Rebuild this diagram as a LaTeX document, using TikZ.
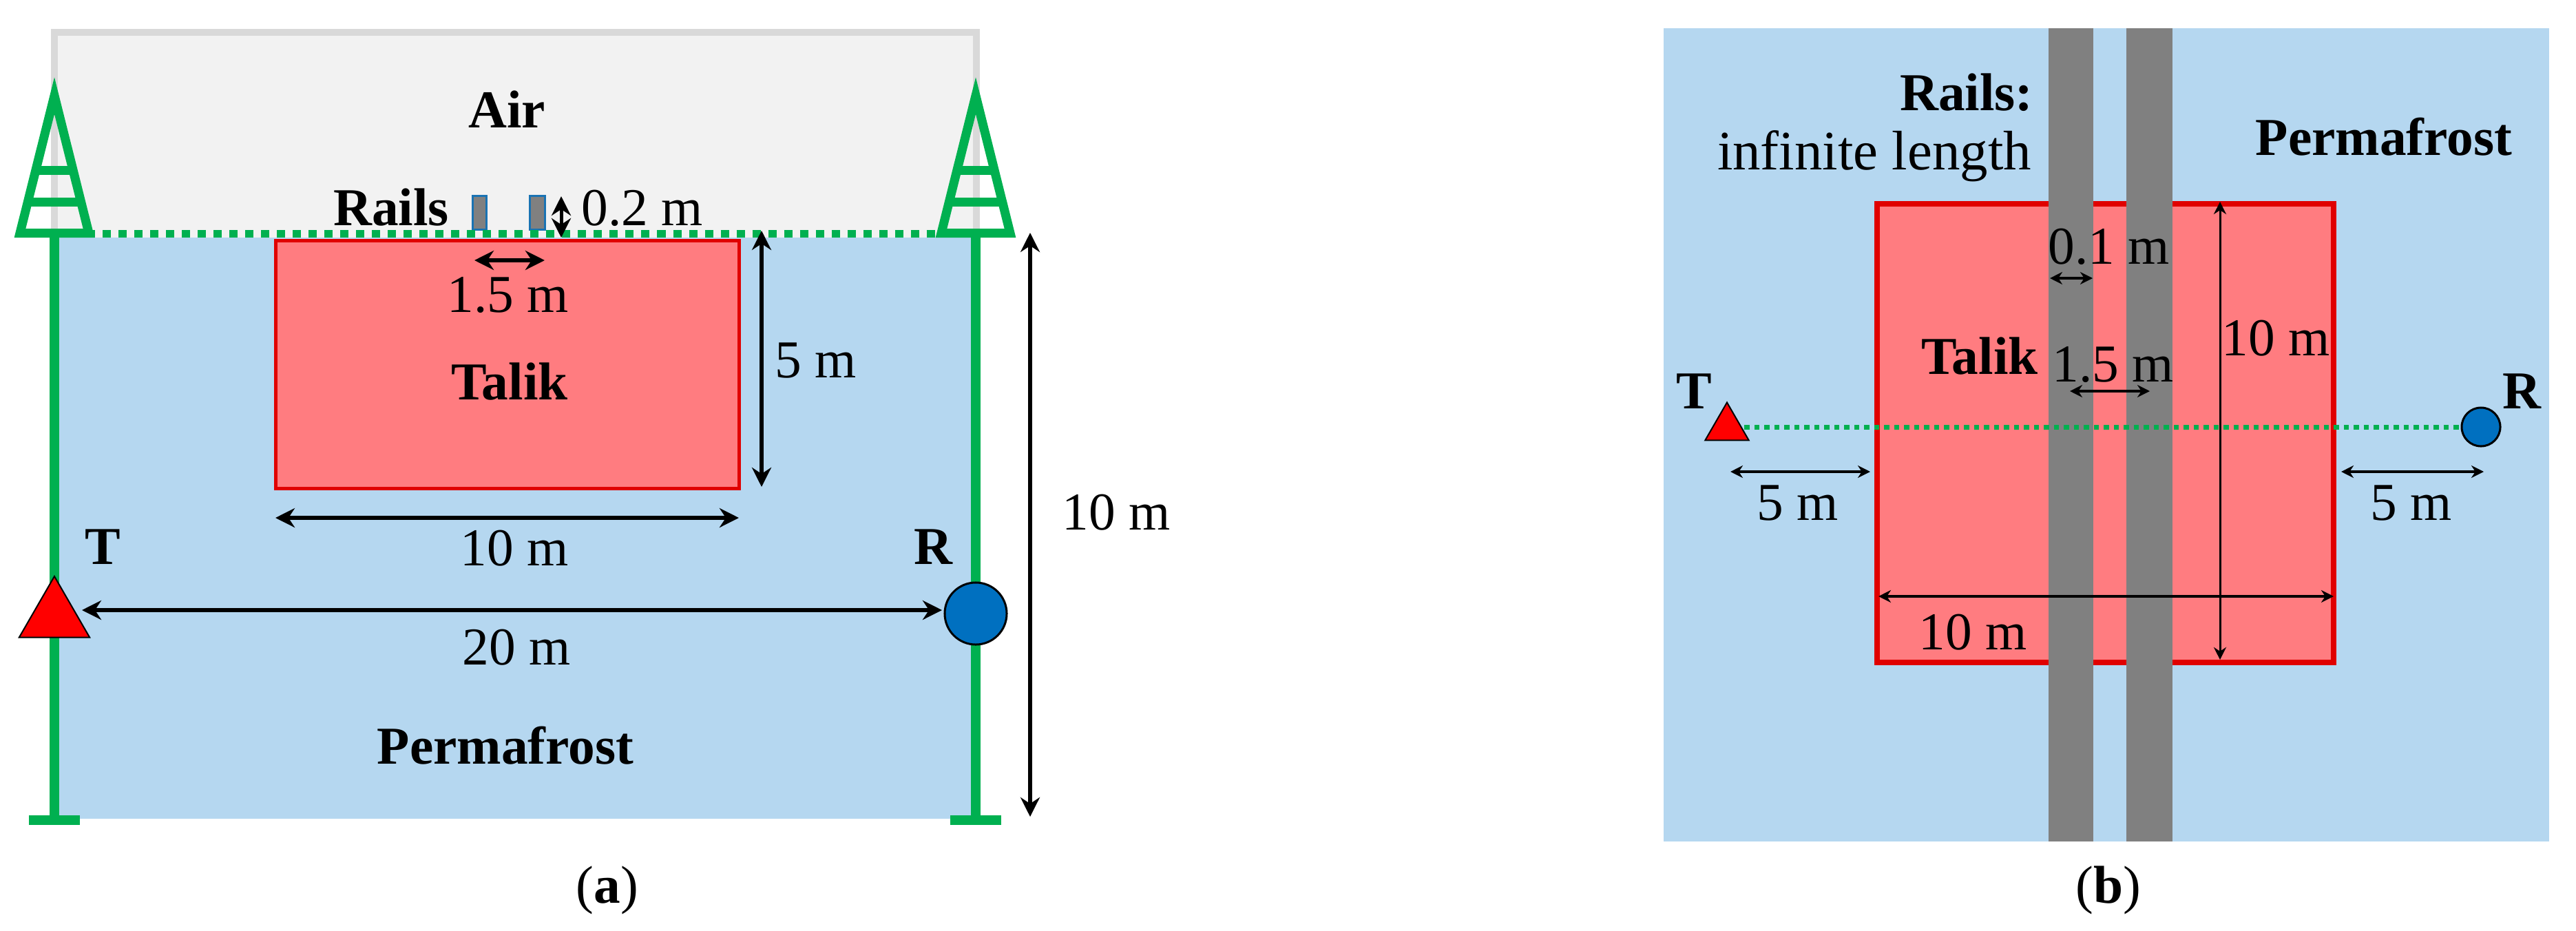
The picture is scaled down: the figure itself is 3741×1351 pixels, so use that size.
\documentclass[tikz,border=0pt]{standalone}
\usepackage{fontspec}
\setmainfont{Liberation Serif}
\usepackage{tikz}
\usetikzlibrary{arrows,arrows.meta}
\usetikzlibrary{calc}
\usetikzlibrary{shapes.geometric}
\definecolor{permafrost}{RGB}{181, 215, 240}
\definecolor{talik}{RGB}{255, 124, 128}
\definecolor{talikrand}{RGB}{224, 0, 0}
\definecolor{antenne}{RGB}{0, 176, 80}
\definecolor{schiene}{RGB}{128, 128, 128}
\definecolor{luft}{RGB}{242, 242, 242}
\definecolor{luftrand}{RGB}{217, 217, 217}
\definecolor{empfaenger}{RGB}{0, 112, 192}
\tikzset{
    lbl/.style={anchor=base, inner sep=0pt, outer sep=0pt, font=\fontsize{22}{26}\selectfont},
    lblbf/.style={lbl, font=\fontsize{22}{26}\selectfont\bfseries},
    mass/.style={black, line width=0.06cm, {Stealth[length=0.28cm, width=0.28cm]}-{Stealth[length=0.28cm, width=0.28cm]}},
    massklein/.style={black, line width=0.04cm, {Stealth[length=0.18cm, width=0.18cm]}-{Stealth[length=0.18cm, width=0.18cm]}},
    tx/.style={regular polygon, regular polygon sides=3, fill=red, draw=black, line width=0.02cm, inner sep=0pt, outer sep=0pt},
    rx/.style={circle, fill=empfaenger, draw=black, line width=0.03cm, inner sep=0pt, outer sep=0pt},
    talikbox/.style={fill=talik, draw=talikrand},
    railbox/.style={fill=schiene, draw=empfaenger!80!schiene, line width=0.03cm},
}
\newcommand{\mast}[2]{
    % #1 = name
    % #2 = x position
    \coordinate (#1top) at (#2,139);
    \coordinate (#1l) at (#2-50,338.5);
    \coordinate (#1r) at (#2+50,338.5);
    \draw[antenne, line width=0.14cm] (#2,342) -- (#2,1190);
    \draw[antenne, line width=0.14cm] (#2-37,1191) -- (#2+37,1191);
    \draw[antenne, line width=0.13cm] (#1top) -- (#1l) -- (#1r) -- cycle;
    \draw[antenne, line width=0.13cm] ($(#1top)!0.546!(#1l)$) -- ($(#1top)!0.546!(#1r)$);
    \draw[antenne, line width=0.13cm] ($(#1top)!0.772!(#1l)$) -- ($(#1top)!0.772!(#1r)$);
}
\begin{document}
\begin{tikzpicture}[x=0.01cm, y=-0.01cm]

    \useasboundingbox (0,0) rectangle (3741,1351);

    % (a)
    \fill[permafrost] (80,345) rectangle (1417,1189);
    \draw[luftrand, fill=luft, line width=0.10cm] (79,345) -- (79,47) -- (1418,47) -- (1418,345);
    \draw[talikbox, line width=0.05cm] (400,349) rectangle (1073,709);

    \draw[railbox] (686,284) rectangle (706,333);
    \draw[railbox] (769,284) rectangle (791,333);

    \coordinate (bodenL) at (80,339.5);
    \coordinate (bodenR) at (1417,339.5);
    \draw[antenne, line width=0.11cm, dash pattern=on 0.12cm off 0.11cm] (bodenL) -- (bodenR);

    \mast{mastL}{79}
    \mast{mastR}{1417}

    \node[tx, minimum size=1.18cm] (txA) at (79,896) {};
    \node[rx, minimum size=0.90cm] (rxA) at (1417,891) {};

    %
    %
    %

    \node[lblbf] (luftA) at (736,185) {Air};
    \node[lblbf] (railsA) at (568,327) {Rails};
    \node[lbl] (hoeheA) at (933,327) {0.2 m};
    \node[lbl] (spurA) at (738,453) {1.5 m};
    \node[lblbf] (talikA) at (740,580) {Talik};
    \node[lbl] (tiefeA) at (1185,548) {5 m};
    \node[lbl] (breiteA) at (747,821) {10 m};
    \node[lbl] (bodenA) at (1621,769) {10 m};
    \node[lblbf] (tA) at (149,819) {T};
    \node[lblbf] (rA) at (1355,819) {R};
    \node[lbl] (abstandA) at (750,965) {20 m};
    \node[lblbf] (permA) at (734,1109) {Permafrost};
    \node[lbl] (capA) at (882,1311) {(\textbf{a})};

    \coordinate (h1) at (815,285);
    \coordinate (h2) at (815,345);
    \draw[mass, line width=0.05cm] (h1) -- (h2);
    \coordinate (s1) at (689,378);
    \coordinate (s2) at (791,378);
    \draw[mass] (s1) -- (s2);
    \coordinate (t1) at (1106,335);
    \coordinate (t2) at (1106,707);
    \draw[mass] (t1) -- (t2);
    \coordinate (b1) at (400,752);
    \coordinate (b2) at (1073,752);
    \draw[mass] (b1) -- (b2);
    \coordinate (v1) at (1496,338);
    \coordinate (v2) at (1496,1186);
    \draw[mass] (v1) -- (v2);
    \coordinate (a1) at (119,886);
    \coordinate (a2) at (1368,886);
    \draw[mass] (a1) -- (a2);

    %
    %
    %

    % (b)
    \fill[permafrost] (2416,41) rectangle (3702,1222);
    \draw[talikbox, line width=0.08cm] (2726,296) rectangle (3389,962);
    \fill[schiene] (2975,41) rectangle (3040,1222);
    \fill[schiene] (3088,41) rectangle (3155,1222);

    \coordinate (linieB) at (2533,620);
    \node[rx, minimum size=0.56cm] (rxB) at (3603,620) {};
    \draw[antenne, line width=0.07cm, dash pattern=on 0.075cm off 0.07cm] (linieB) -- (rxB.west);
    \node[tx, minimum size=0.73cm] (txB) at (2508,621) {};

    \node[lblbf] (railsB) at (2856,160) {Rails:};
    \node[lbl, font=\fontsize{23}{27}\selectfont] (laengeB) at (2722,246) {infinite length};
    \node[lblbf] (permB) at (3462,225) {Permafrost};
    \node[lbl] (dickeB) at (3063,383) {0.1 m};
    \node[lblbf] (talikB) at (2875,543) {Talik};
    \node[lbl] (spurB) at (3069,554) {1.5 m};
    \node[lbl] (hoeheB) at (3305,516) {10 m};
    \node[lblbf] (tB) at (2460,593) {T};
    \node[lblbf] (rB) at (3662,593) {R};
    \node[lbl] (linksB) at (2611,755) {5 m};
    \node[lbl] (rechtsB) at (3502,755) {5 m};
    \node[lbl] (breiteB) at (2865,943) {10 m};
    \node[lbl] (capB) at (3062,1311) {(\textbf{b})};

    \coordinate (d1) at (2977,404);
    \coordinate (d2) at (3039,404);
    \draw[massklein] (d1) -- (d2);
    \coordinate (p1) at (3006,568);
    \coordinate (p2) at (3122,568);
    \draw[massklein] (p1) -- (p2);
    \coordinate (q1) at (3224,293);
    \coordinate (q2) at (3224,958);
    \draw[massklein, line width=0.03cm] (q1) -- (q2);
    \coordinate (w1) at (2728,866);
    \coordinate (w2) at (3389,866);
    \draw[massklein] (w1) -- (w2);
    \coordinate (l1) at (2513,685);
    \coordinate (l2) at (2716,685);
    \draw[massklein] (l1) -- (l2);
    \coordinate (r1) at (3400,685);
    \coordinate (r2) at (3607,685);
    \draw[massklein] (r1) -- (r2);

\end{tikzpicture}
\end{document}
